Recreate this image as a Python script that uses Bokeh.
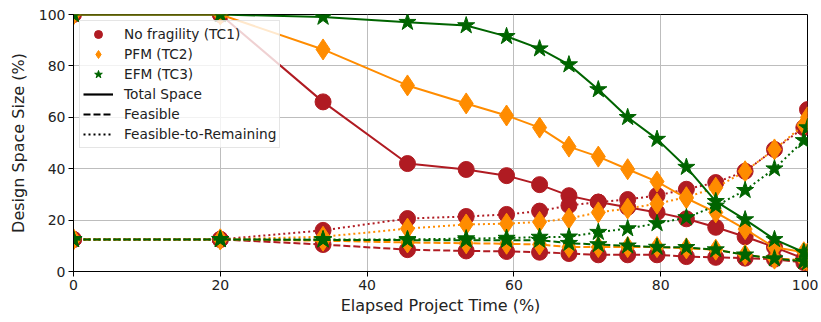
from bokeh.plotting import figure
from bokeh.models import Range1d, Legend, LegendItem, ColumnDataSource, FixedTicker
from bokeh.embed import file_html
from bokeh.resources import INLINE

# ---- data ----
elapsed = [0, 20, 34, 45.5, 53.5, 59, 63.5, 67.5, 71.5, 75.5, 79.5, 83.5, 87.5, 91.5, 95.5, 99.5, 100]

tc1_total = [100, 100, 66, 42, 39.7, 37.3, 33.8, 29.5, 27, 25, 23, 20.5, 17.2, 13.5, 9.5, 5, 4]
tc1_feasible = [12.5, 12.5, 10.5, 8.5, 8, 7.8, 7.5, 7, 6.5, 6.5, 6.5, 5.8, 5.5, 5.2, 4.8, 3.5, 3.5]
tc1_f2r = [12.5, 12.5, 16, 20.6, 21.4, 22.2, 23.5, 25.7, 27, 28, 29.6, 32, 34.6, 39, 47.5, 56, 63]

tc2_total = [100, 100, 86.4, 72.4, 65.4, 60.7, 56, 48.6, 44.7, 39.8, 35, 28.5, 23, 16.5, 9.4, 7.5, 7]
tc2_feasible = [12.5, 12.5, 12, 11.3, 11, 10.8, 10.5, 9.5, 9.5, 9.5, 9.5, 9, 8.5, 6.5, 5, 4.5, 4]
tc2_f2r = [12.5, 12.5, 13.5, 16.7, 18.3, 18.6, 19.3, 20.6, 23, 24.5, 26.4, 28.9, 32.6, 39, 47.5, 57, 60]

tc3_total = [100, 100, 99, 97, 95.7, 91.5, 86.7, 80.5, 70.8, 60, 51.5, 40.6, 27.3, 20.2, 12.5, 7.5, 7]
tc3_feasible = [12.5, 12.5, 12.3, 12.2, 12.2, 12.2, 12.2, 11, 10.5, 10, 9.5, 9.4, 8.5, 6.5, 5, 4, 3.5]
tc3_f2r = [12.5, 12.5, 12.5, 12.5, 12.8, 13, 13.4, 13.5, 15.3, 16.7, 18.7, 21, 25.5, 31.6, 40, 51, 56]

series_labels = ["No fragility (TC1)", "PFM (TC2)", "EFM (TC3)"]
style_labels = ["Total Space", "Feasible", "Feasible-to-Remaining"]
x_ticks = [0, 20, 40, 60, 80, 100]
y_ticks = [0, 20, 40, 60, 80, 100]

# ---- styles ----
colors = ["#b01b22", "#ff8c00", "#006400"]
markers = ["circle", "diamond", "star"]
msizes = [16, 21, 18]
dashes = ["solid", "7 3", "2 3"]
FONT = "DejaVu Sans"

p = figure(width=818, height=320, output_backend="svg", toolbar_location=None,
           x_range=Range1d(0, 100), y_range=Range1d(0, 100),
           min_border_left=73, min_border_right=11, min_border_top=14, min_border_bottom=49)

p.outline_line_color = "black"
p.outline_line_width = 1
p.background_fill_color = "white"
p.border_fill_color = "white"

for ax in (p.xaxis, p.yaxis):
    ax.axis_line_color = "black"
    ax.major_tick_line_color = "black"
    ax.major_tick_out = 5
    ax.major_tick_in = 0
    ax.minor_tick_line_color = None
    ax.major_label_text_font = FONT
    ax.major_label_text_font_size = "14px"
    ax.major_label_text_color = "#222222"
    ax.axis_label_text_font = FONT
    ax.axis_label_text_font_size = "16px"
    ax.axis_label_text_font_style = "normal"
    ax.axis_label_text_color = "#222222"

p.xaxis.ticker = FixedTicker(ticks=x_ticks)
p.yaxis.ticker = FixedTicker(ticks=y_ticks)
p.xaxis.axis_label = "Elapsed Project Time (%)"
p.yaxis.axis_label = "Design Space Size (%)"
p.xaxis.major_label_standoff = 3
p.xaxis.axis_label_standoff = 3
p.yaxis.major_label_standoff = 3
p.yaxis.axis_label_standoff = 8

p.grid.grid_line_color = "#bdbdbd"
p.grid.grid_line_width = 1

all_series = [
    [tc1_total, tc1_feasible, tc1_f2r],
    [tc2_total, tc2_feasible, tc2_f2r],
    [tc3_total, tc3_feasible, tc3_f2r],
]

marker_renderers = []
for i, group in enumerate(all_series):
    first = None
    for j, ys in enumerate(group):
        src = ColumnDataSource(dict(x=elapsed, y=ys))
        p.line("x", "y", source=src, line_color=colors[i], line_width=2, line_dash=dashes[j])
        r = p.scatter("x", "y", source=src, marker=markers[i], size=msizes[i],
                      fill_color=colors[i], line_color=colors[i], line_width=1)
        if first is None:
            first = r
    marker_renderers.append(first)

# legend-only line samples (a single NaN point: nothing is drawn on the plot)
style_renderers = []
for j in range(3):
    src = ColumnDataSource(dict(x=[float("nan")], y=[float("nan")]))
    style_renderers.append(p.line("x", "y", source=src, line_color="black", line_width=2.2, line_dash=dashes[j]))

items = [LegendItem(label=series_labels[i], renderers=[marker_renderers[i]]) for i in range(3)]
items += [LegendItem(label=style_labels[j], renderers=[style_renderers[j]]) for j in range(3)]

legend = Legend(items=items, location="top_left")
legend.margin = 6
legend.padding = 3
legend.spacing = 0
legend.label_height = 20
legend.glyph_height = 20
legend.glyph_width = 30
legend.label_standoff = 11
legend.label_text_font = FONT
legend.label_text_font_size = "13.7px"
legend.label_text_color = "#222222"
legend.border_line_color = "#cccccc"
legend.border_line_width = 1
legend.background_fill_color = "white"
legend.background_fill_alpha = 0.8
p.add_layout(legend, "center")

open("out.html", "w").write(file_html(p, INLINE))
